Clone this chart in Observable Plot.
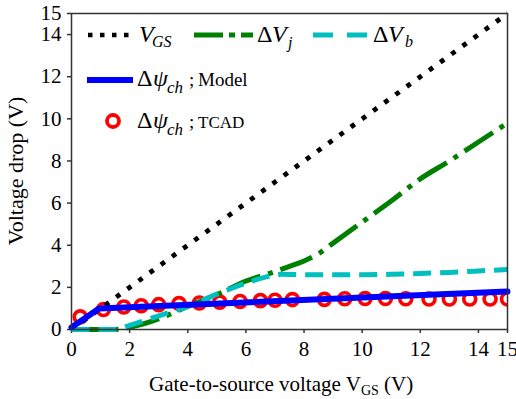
<!DOCTYPE html>
<html>
<head>
<meta charset="utf-8">
<script src="https://cdn.jsdelivr.net/npm/d3@7"></script>
<script src="https://cdn.jsdelivr.net/npm/@observablehq/plot@0.6"></script>
<style>
  html, body { margin: 0; padding: 0; background: white; }
  #chart svg { display: block; }
  #chart svg, #chart svg text, #chart svg tspan {
    font-family: "Liberation Serif", "DejaVu Serif", "Times New Roman", Tinos, serif !important;
  }
</style>
</head>
<body>
<div id="chart"></div>
<script>
// ---- Data ----
const xTicks = [0, 2, 4, 6, 8, 10, 12, 14, 15];
const yTicks = [0, 2, 4, 6, 8, 10, 12, 14, 15];

// V_GS (dotted black)
const vgsX = [0, 15];
const vgsY = [0, 15];

// ΔV_j (green dash-dot)
const vjX = [0, 1.5, 2, 3, 4, 5, 6, 7, 7.5, 8, 8.5, 9, 10, 11, 12, 13, 14, 15];
const vjY = [0, 0, 0.1, 0.5, 1.1, 1.65, 2.3, 2.75, 3.0, 3.25, 3.6, 4.1, 5.1, 6.1, 7.15, 8.0, 8.9, 9.8];

// ΔV_b (cyan dashed)
const vbX = [0, 1.5, 2, 3, 4, 5, 6, 6.7, 7.2, 8, 10, 11, 12, 13, 14, 15];
const vbY = [0, 0, 0.2, 0.65, 1.1, 1.68, 2.2, 2.5, 2.62, 2.6, 2.6, 2.62, 2.66, 2.71, 2.78, 2.85];

// Δψ_ch model (blue solid)
const modelX = [0, 0.95, 15];
const modelY = [0.1, 1.0, 1.8];

// Δψ_ch TCAD (red circles)
const tcadX = [0.3, 1.1, 1.8, 2.4, 3.0, 3.7, 4.4, 5.1, 5.8, 6.5, 7.0, 7.6, 8.7, 9.4, 10.1, 10.8, 11.5, 12.3, 13.0, 13.7, 14.4, 15.0];
const tcadY = [0.6, 0.95, 1.07, 1.13, 1.18, 1.23, 1.26, 1.3, 1.33, 1.37, 1.39, 1.42, 1.43, 1.46, 1.47, 1.47, 1.46, 1.45, 1.45, 1.45, 1.45, 1.45];

const toRows = (xs, ys) => xs.map((x, i) => ({x, y: ys[i]}));
const vgs = toRows(vgsX, vgsY);
const vj = toRows(vjX, vjY);
const vb = toRows(vbX, vbY);
const model = toRows(modelX, modelY);
const tcad = toRows(tcadX, tcadY);

const FONT = "Liberation Serif, DejaVu Serif, serif";

const chart = Plot.plot({
  width: 516,
  height: 399,
  marginLeft: 71,
  marginRight: 9,
  marginTop: 13,
  marginBottom: 70,
  style: {fontFamily: FONT, fontSize: "21px", color: "black", background: "white", overflow: "visible"},
  x: {domain: [0, 15], label: null},
  y: {domain: [0, 15], label: null},
  marks: [
    Plot.axisX({ticks: xTicks, tickSize: 4, tickPadding: 8, stroke: "#333", strokeWidth: 1.5, fill: "black", label: null}),
    Plot.axisY({ticks: yTicks, tickSize: 4, tickPadding: 6, stroke: "#333", strokeWidth: 1.5, fill: "black", label: null}),
    Plot.dot(tcad, {x: "x", y: "y", r: 6, stroke: "#ff0000", strokeWidth: 3.6, fill: "none", clip: true}),
    Plot.line(vgs, {x: "x", y: "y", stroke: "black", strokeWidth: 4.8, strokeDasharray: "4.8,9", strokeLinecap: "butt"}),
    Plot.line(vj, {x: "x", y: "y", stroke: "#008000", strokeWidth: 5, strokeDasharray: "34,8,5,8", strokeLinecap: "butt", curve: "monotone-x"}),
    Plot.line(vb, {x: "x", y: "y", stroke: "#00bfbf", strokeWidth: 5, strokeDasharray: "18,9", strokeLinecap: "butt", curve: "monotone-x"}),
    Plot.line(model, {x: "x", y: "y", stroke: "#0000ff", strokeWidth: 6}),
    Plot.frame({stroke: "#333", strokeWidth: 1.5})
  ]
});
document.getElementById("chart").appendChild(chart);

// ---- Legend and axis titles (drawn into the same SVG) ----
const svg = d3.select(chart);
const g = svg.append("g").attr("text-anchor", "start").attr("fill", "black");

function piece(parent, x, y, str, size, italic) {
  parent.append("text").attr("x", x).attr("y", y).attr("font-size", size)
    .attr("text-anchor", "start")
    .attr("font-style", italic ? "italic" : "normal").text(str);
}

// Row 1
g.append("line").attr("x1", 88).attr("x2", 130).attr("y1", 35).attr("y2", 35)
  .attr("stroke", "black").attr("stroke-width", 4.5).attr("stroke-dasharray", "4.5,7.5");
piece(g, 139, 42, "V", 24, true);
piece(g, 152, 47, "GS", 16, true);

g.append("line").attr("x1", 194).attr("x2", 253).attr("y1", 35).attr("y2", 35)
  .attr("stroke", "#008000").attr("stroke-width", 5).attr("stroke-dasharray", "29,6,6,6");
piece(g, 257, 42, "Δ", 24, false);
piece(g, 272, 42, "V", 24, true);
piece(g, 288, 48, "j", 16, true);

g.append("line").attr("x1", 313).attr("x2", 368).attr("y1", 35).attr("y2", 35)
  .attr("stroke", "#00bfbf").attr("stroke-width", 5).attr("stroke-dasharray", "20,14");
piece(g, 373, 42, "Δ", 24, false);
piece(g, 388, 42, "V", 24, true);
piece(g, 405, 47, "b", 16, true);

// Row 2
g.append("line").attr("x1", 87).attr("x2", 133).attr("y1", 80).attr("y2", 80)
  .attr("stroke", "#0000ff").attr("stroke-width", 6);
piece(g, 137, 86, "Δ", 24, false);
piece(g, 153, 86, "ψ", 24, true);
piece(g, 167, 93, "ch", 17, true);
piece(g, 189, 86, ";", 19, false);
piece(g, 198, 86, "Model", 19, false);

// Row 3
g.append("circle").attr("cx", 113).attr("cy", 121).attr("r", 6)
  .attr("fill", "none").attr("stroke", "#ff0000").attr("stroke-width", 3.8);
piece(g, 137, 128, "Δ", 24, false);
piece(g, 153, 128, "ψ", 24, true);
piece(g, 167, 135, "ch", 17, true);
piece(g, 189, 128, ";", 19, false);
piece(g, 198, 128, "TCAD", 17, false);

// Axis titles
const xl = g.append("text").attr("x", 149).attr("y", 391).attr("font-size", 21).attr("text-anchor", "start");
xl.append("tspan").text("Gate-to-source voltage V");
xl.append("tspan").attr("font-size", 14).attr("dy", 4).text("GS");
xl.append("tspan").attr("dy", -4).text(" (V)");

g.append("text").attr("transform", "translate(23,171) rotate(-90)")
  .attr("text-anchor", "middle").attr("font-size", 22).text("Voltage drop (V)");
</script>
</body>
</html>
